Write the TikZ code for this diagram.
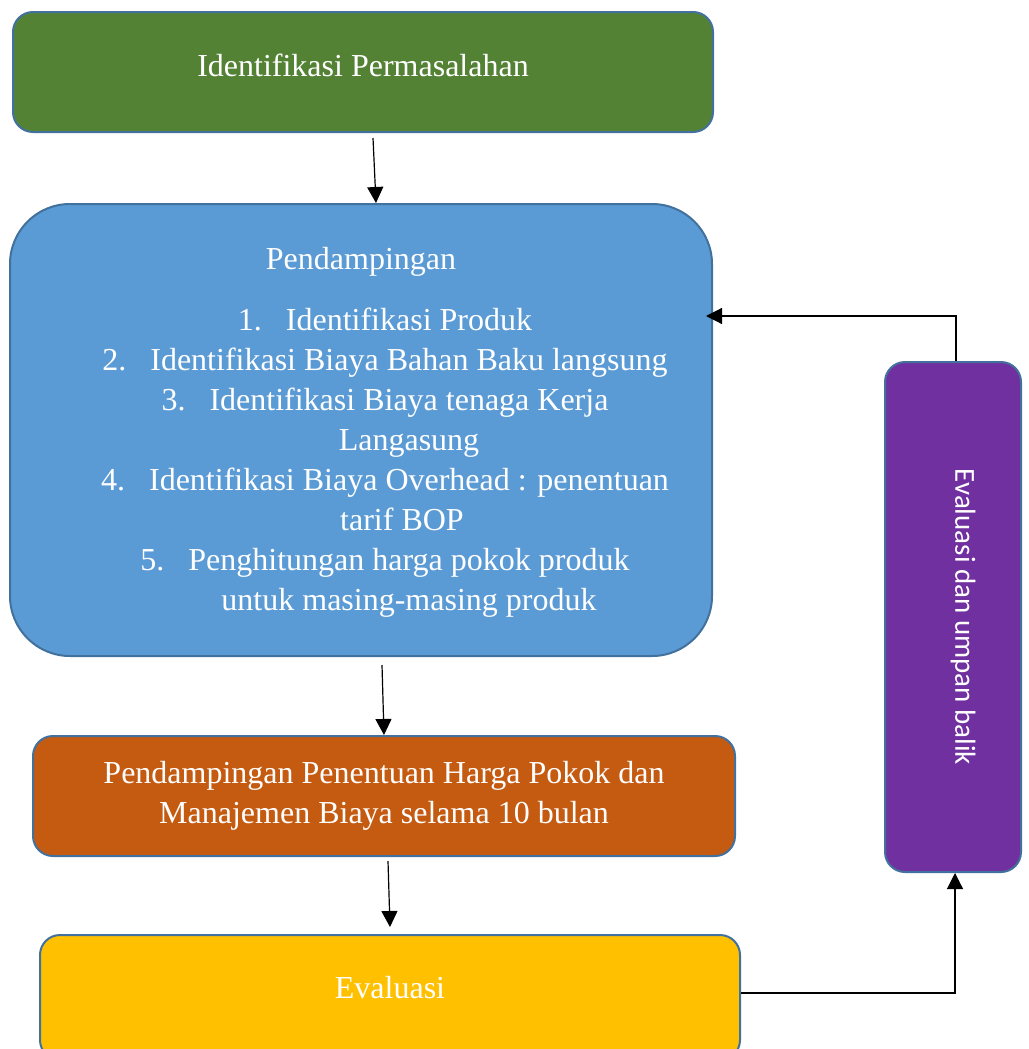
\documentclass[tikz,border=0pt]{standalone}
\usepackage{fontspec}
\setmainfont{Liberation Serif}
\newfontfamily\calibrifont{Carlito}
\usepackage{tikz}
\usetikzlibrary{
    arrows.meta,
    positioning,
    calc
}
\definecolor{boxline}{HTML}{41719C}
\definecolor{hijau}{HTML}{548235}
\definecolor{biru}{HTML}{5B9BD5}
\definecolor{oranye}{HTML}{C55A11}
\definecolor{kuning}{HTML}{FFC000}
\definecolor{ungu}{HTML}{7030A0}
\tikzstyle{arrow} = [-{Triangle[length=8pt,width=8pt]}, line width=0.6pt]
\tikzstyle{box} = [draw=boxline, line width=1pt, rounded corners=10pt, inner sep=0pt, minimum width=350pt, minimum height=60pt]
\tikzstyle{boxtext} = [text=white, font=\fontsize{16}{20}\selectfont, align=center, inner sep=0pt]

\begin{document}
\begin{tikzpicture}[x=0.5pt,y=-0.5pt]
    \clip (0,0) rectangle (1028,1049);
    \node[box, fill=hijau] (masalah) at (363,72) {};
    \node[boxtext] (masalahtxt) at (363,65) {Identifikasi Permasalahan};
    \node[box, fill=biru, rounded corners=30pt, minimum width=351pt, minimum height=226pt] (damping) at (361,430) {};
    \node[boxtext] (dampingjudul) at (361,262) {Pendampingan};
    \node[boxtext] (dampinglist) at (385,463) {%
        1.\hspace{12pt}Identifikasi Produk\\
        2.\hspace{12pt}Identifikasi Biaya Bahan Baku langsung\\
        3.\hspace{12pt}Identifikasi Biaya tenaga Kerja\\
        \hspace*{24pt}Langasung\\
        4.\hspace{12pt}Identifikasi Biaya Overhead : penentuan\\
        \hspace*{17pt}tarif BOP\\
        5.\hspace{12pt}Penghitungan harga pokok produk\\
        \hspace*{24pt}untuk masing-masing produk};
    \node[box, fill=oranye, minimum width=351pt] (harga) at (384,796) {};
    \node[boxtext] (hargatxt) at (384,796) {Pendampingan Penentuan Harga Pokok dan\\Manajemen Biaya selama 10 bulan};
    \node[box, fill=kuning, minimum height=62.5pt] (evaluasi) at (390,997.5) {};
    \node[boxtext] (evaluasitxt) at (390,988) {Evaluasi};
    \node[box, fill=ungu, minimum width=68pt, minimum height=255pt] (umpan) at (953,617) {};
    \node[text=white, font=\calibrifont\fontsize{14.5}{17}\selectfont, rotate=-90, inner sep=0pt] (umpantxt) at (963,617) {Evaluasi dan umpan balik};

    \draw[arrow] ([xshift=5pt,yshift=-2.5pt]masalah.south) -- ([xshift=7.5pt]damping.north);
    \draw[arrow] ([xshift=10.5pt,yshift=-4pt]damping.south) -- (harga.north);
    \draw[arrow] ([xshift=2pt,yshift=-2pt]harga.south) -- ([yshift=3.5pt]evaluasi.north);
    \draw[arrow] ([yshift=2.25pt]evaluasi.east) -| ([xshift=1pt]umpan.south);
    \draw[arrow] ([xshift=1.5pt]umpan.north) |- ([xshift=-3.5pt,yshift=57pt]damping.east);
\end{tikzpicture}
\end{document}
